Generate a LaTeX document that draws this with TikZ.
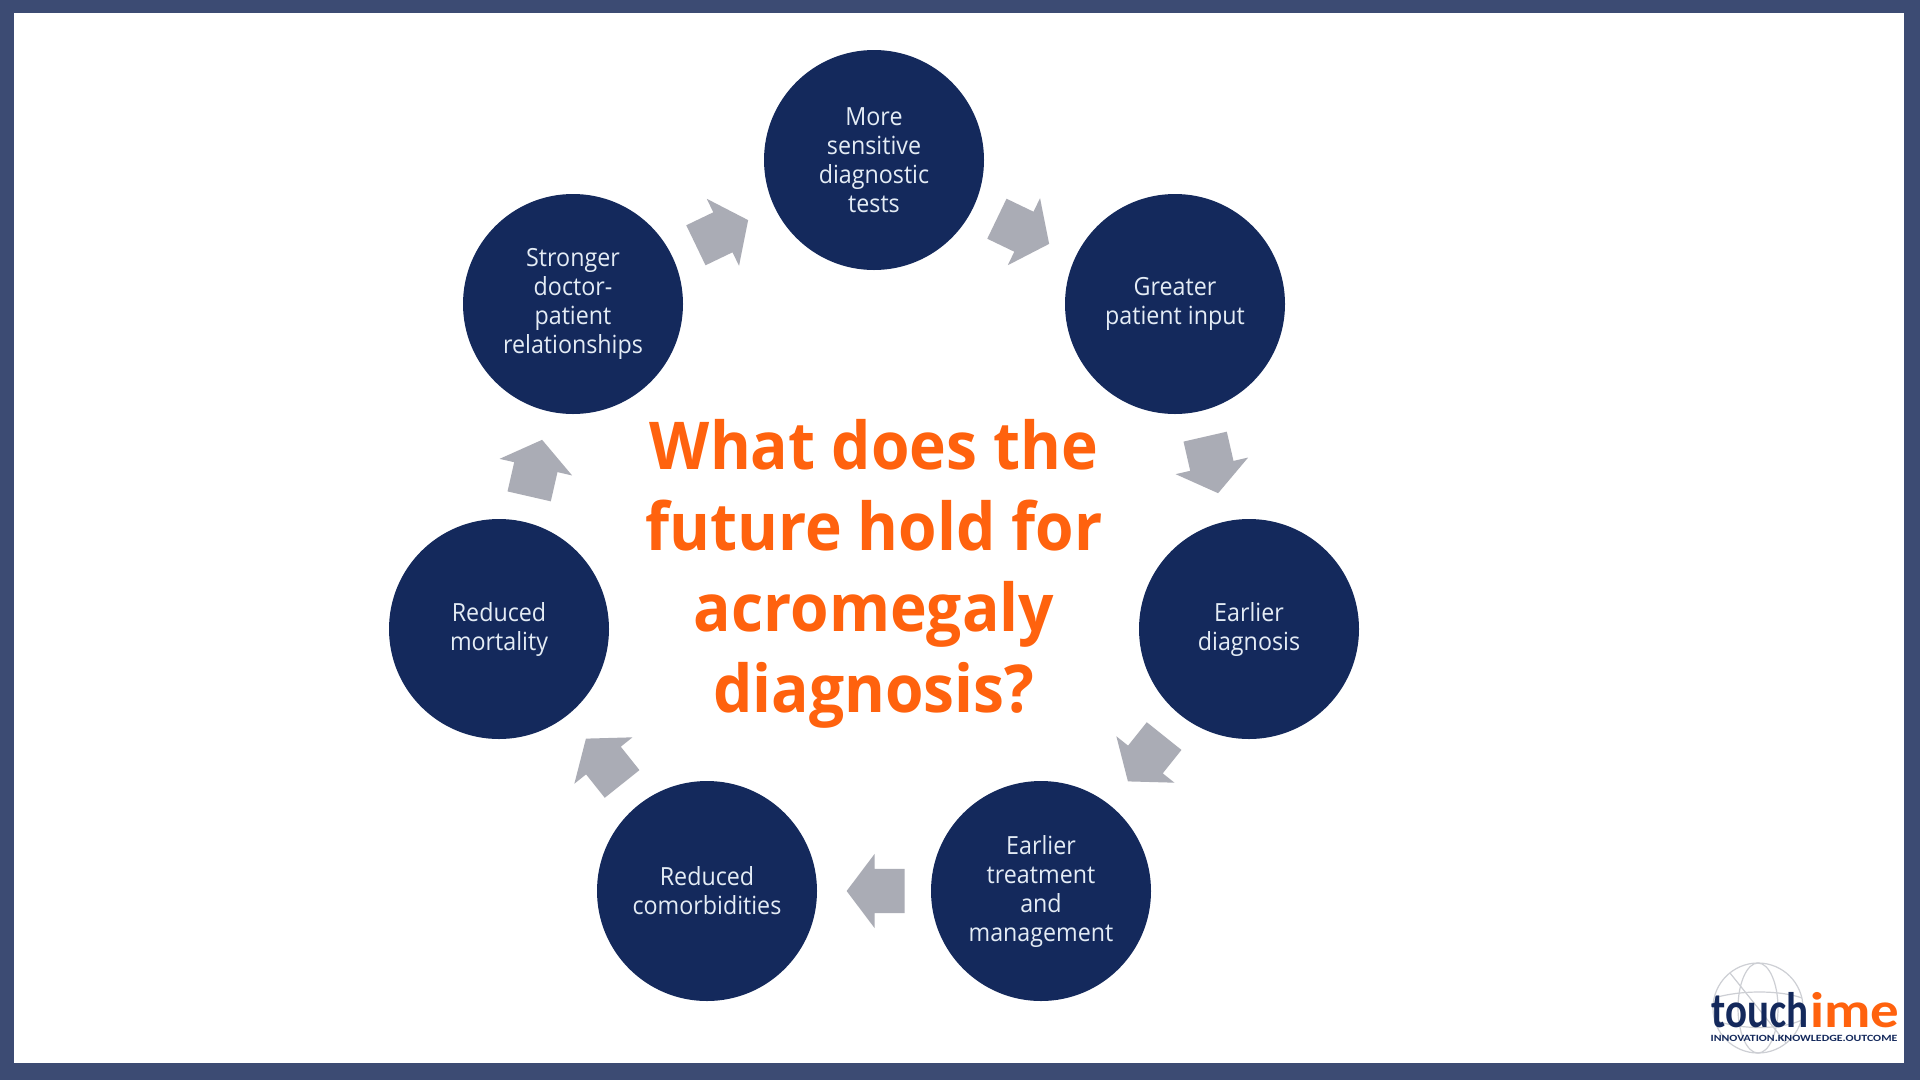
\documentclass[tikz,border=0pt]{standalone}
\usepackage{fontspec}
\setmainfont{Open Sans}[FakeStretch=0.93]
\newfontfamily\titlefont{Open Sans}[FakeStretch=0.943]
\newfontfamily\touchfont{Carlito}[FakeStretch=0.82]
\newfontfamily\imefont{Carlito}[FakeStretch=1.14]
\newfontfamily\taglinefont{Carlito}[FakeStretch=1.25]
\usetikzlibrary{calc,shapes.arrows}

\definecolor{framecol}{RGB}{60,75,115}
\definecolor{navycol}{RGB}{20,41,92}
\definecolor{arrowcol}{RGB}{170,172,181}
\definecolor{orangecol}{RGB}{255,98,14}
\definecolor{globecol}{RGB}{205,207,212}
\definecolor{palecol}{RGB}{228,236,245}

\tikzset{
  stepcircle/.style={circle, fill=navycol, minimum size=220pt, inner sep=0pt, align=center,
    text=palecol, font=\fontsize{25}{29}\selectfont},
  blockarrow/.style={single arrow, fill=arrowcol, inner xsep=0pt, inner ysep=22pt, minimum height=58pt,
    single arrow head extend=15pt, single arrow head indent=0pt, single arrow tip angle=106,
    rotate=#1, xshift=-10pt},
  globeline/.style={draw=globecol, line width=1.2pt}
}

\begin{document}
\begin{tikzpicture}[x=1pt,y=-1pt]

\fill [framecol] (0,0) rectangle (1920,1080);
\fill [white] (14,13) rectangle (1904,1063);
\useasboundingbox (0,0) rectangle (1920,1080);

\coordinate (sensitive-tests-label) at (874,160);
\coordinate (patient-input-label) at (1175,304);
\coordinate (earlier-diagnosis-label) at (1249,629);
\coordinate (earlier-treatment-label) at (1041,891);
\coordinate (comorbidities-label) at (707,891);
\coordinate (mortality-label) at (499,629);
\coordinate (relationships-label) at (573,304);

\node [stepcircle] (sensitive-tests) at (sensitive-tests-label) {More\\sensitive\\diagnostic\\tests};
\node [stepcircle] (patient-input) at (patient-input-label) {Greater\\patient input};
\node [stepcircle] (earlier-diagnosis) at (earlier-diagnosis-label) {Earlier\\diagnosis};
\node [stepcircle] (earlier-treatment) at (earlier-treatment-label) {Earlier\\treatment\\and\\management};
\node [stepcircle] (comorbidities) at (comorbidities-label) {Reduced\\comorbidities};
\node [stepcircle] (mortality) at (mortality-label) {Reduced\\mortality};
\node [stepcircle] (relationships) at (relationships-label) {Stronger\\doctor-\\patient\\relationships};

\node [blockarrow=-25.7] (arrow-a) at ($(sensitive-tests)!0.5!(patient-input)$) {};
\node [blockarrow=-77.1] (arrow-b) at ($(patient-input)!0.5!(earlier-diagnosis)$) {};
\node [blockarrow=-128.6] (arrow-c) at ($(earlier-diagnosis)!0.5!(earlier-treatment)$) {};
\node [blockarrow=180] (arrow-d) at ($(earlier-treatment)!0.5!(comorbidities)$) {};
\node [blockarrow=128.6] (arrow-e) at ($(comorbidities)!0.5!(mortality)$) {};
\node [blockarrow=77.1] (arrow-f) at ($(mortality)!0.5!(relationships)$) {};
\node [blockarrow=25.7] (arrow-g) at ($(relationships)!0.5!(sensitive-tests)$) {};

\node [text=orangecol, align=center, font=\titlefont\fontsize{66}{81}\selectfont\bfseries] (title) at (874,574)
  {What does the\\future hold for\\acromegaly\\diagnosis?};

% logo
\coordinate (globe-label) at (1758,1008);
\draw [globeline] (globe-label) circle (45);
\draw [globeline] (globe-label) ellipse (20 and 45);
\draw [globeline] ($(globe-label)+(-44,-10)$) .. controls (1740,990) and (1780,990) .. ($(globe-label)+(44,-10)$);
\draw [globeline] ($(globe-label)+(-44,12)$) .. controls (1740,1030) and (1780,1030) .. ($(globe-label)+(44,12)$);
\draw [globeline] ($(globe-label)+(-28,-35)$) -- ($(globe-label)+(28,35)$);
\node [anchor=base east, inner sep=0pt, text=navycol, font=\touchfont\fontsize{50}{50}\selectfont\bfseries] (logo-touch) at (1809,1027) {touch};
\node [anchor=base west, inner sep=0pt, text=orangecol, font=\imefont\fontsize{50}{50}\selectfont\bfseries] (logo-ime) at (1810,1027) {ime};
\node [anchor=base, inner sep=0pt, text=navycol, font=\taglinefont\fontsize{9.5}{9.5}\selectfont\bfseries] (logo-tagline) at (1804,1041) {INNOVATION.KNOWLEDGE.OUTCOME};

\end{tikzpicture}
\end{document}
